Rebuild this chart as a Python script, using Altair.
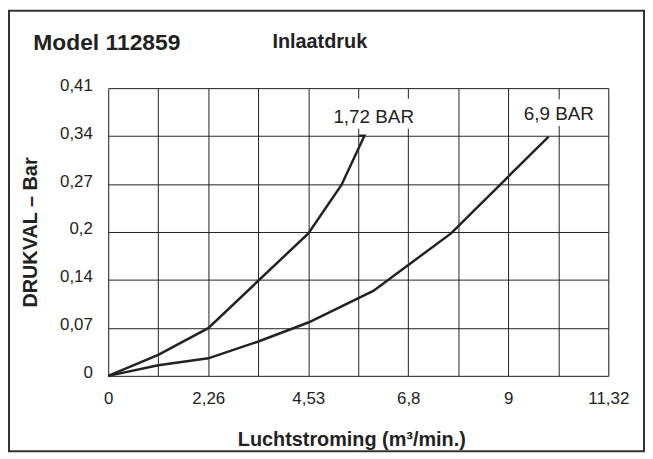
import altair as alt
import pandas as pd

# ---- data ----
x_grid_step = 1.132
x_grid = [round(i * x_grid_step, 3) for i in range(11)]
x_labels = ["0", "", "2,26", "", "4,53", "", "6,8", "", "9", "", "11,32"]

y_step = 0.41 / 6
y_grid = [round(i * y_step, 5) for i in range(7)]
y_labels = ["0", "0,07", "0,14", "0,2", "0,27", "0,34", "0,41"]

s1_name = "1,72 BAR"
s1_x = [0.0, 1.132, 2.264, 4.53, 5.28, 5.80, 5.68]
s1_y = [0.0, 0.030, 0.068, 0.203, 0.272, 0.342, 0.342]

s2_name = "6,9 BAR"
s2_x = [0.0, 1.132, 2.264, 3.40, 4.53, 6.00, 7.76, 9.97]
s2_y = [0.0, 0.015, 0.025, 0.049, 0.076, 0.121, 0.203, 0.341]

# annotation labels (data units)
lab_text = [s1_name, s2_name]
lab_x = [6.01, 10.20]
lab_y = [0.361, 0.365]
box_x1 = [4.95, 9.22]
box_x2 = [7.07, 11.18]
box_y1 = [0.352, 0.356]
box_y2 = [0.395, 0.394]

title_main = "Model 112859"
title_sub = "Inlaatdruk"
x_title = "Luchtstroming (m³/min.)"
y_title = "DRUKVAL – Bar"

# ---- tables ----
rows = []
for i, (x, y) in enumerate(zip(s1_x, s1_y)):
    rows.append({"serie": s1_name, "order": i, "x": x, "y": y})
for i, (x, y) in enumerate(zip(s2_x, s2_y)):
    rows.append({"serie": s2_name, "order": i, "x": x, "y": y})
lines_df = pd.DataFrame(rows)
labels_df = pd.DataFrame({"t": lab_text, "x": lab_x, "y": lab_y,
                          "x1": box_x1, "x2": box_x2, "y1": box_y1, "y2": box_y2})

W, H = 504, 290
PAD_L, PAD_T = 101, 79
TOTAL_W, TOTAL_H = 642, 446
FONT = "Liberation Sans"
INK = "#222222"

x_label_expr = "[" + ",".join("'%s'" % s for s in x_labels) + "][round(datum.value/%s)]" % x_grid_step
y_label_expr = "[" + ",".join("'%s'" % s for s in y_labels) + "][round(datum.value/%s)]" % y_step

xscale = alt.Scale(domain=[0, 11.32], nice=False, zero=True)
yscale = alt.Scale(domain=[0, 0.41], nice=False, zero=True)

xaxis = alt.Axis(values=x_grid, labelExpr=x_label_expr, title=x_title,
                 grid=True, gridColor=INK, gridOpacity=1, gridWidth=1,
                 ticks=False, tickSize=0, domain=False,
                 labelFont=FONT, labelFontSize=17, labelColor=INK,
                 labelPadding=28, labelBaseline="alphabetic", labelFlush=False,
                 titleFont=FONT, titleFontSize=20, titleFontWeight="bold", titleColor=INK,
                 titleX=245, titleY=70, titleAlign="center", titleBaseline="alphabetic")
yaxis = alt.Axis(values=y_grid, labelExpr=y_label_expr, title=y_title,
                 grid=True, gridColor=INK, gridOpacity=1, gridWidth=1,
                 ticks=False, tickSize=0, domain=False,
                 labelFont=FONT, labelFontSize=17, labelColor=INK,
                 labelPadding=16, labelBaseline="alphabetic", labelOffset=2,
                 labelFlush=False,
                 titleFont=FONT, titleFontSize=20, titleFontWeight="bold", titleColor=INK,
                 titleX=-72, titleY=H / 2, titleAngle=270, titleAlign="center",
                 titleBaseline="alphabetic")

base = alt.Chart(lines_df)

lines = base.mark_line(strokeWidth=2.5, color=INK, strokeJoin="miter").encode(
    x=alt.X("x:Q", scale=xscale, axis=xaxis),
    y=alt.Y("y:Q", scale=yscale, axis=yaxis),
    detail="serie:N",
    order="order:Q",
)

boxes = alt.Chart(labels_df).mark_rect(fill="white").encode(
    x=alt.X("x1:Q", scale=xscale), x2="x2:Q",
    y=alt.Y("y1:Q", scale=yscale), y2="y2:Q",
)

texts = alt.Chart(labels_df).mark_text(font=FONT, fontSize=19, color=INK,
                                       align="center", baseline="alphabetic").encode(
    x=alt.X("x:Q", scale=xscale), y=alt.Y("y:Q", scale=yscale), text="t:N"
)

title1 = alt.Chart(pd.DataFrame({"t": [title_main]})).mark_text(
    font=FONT, fontSize=23, fontWeight="bold", color=INK, align="left", baseline="alphabetic"
).encode(x=alt.value(-75.5), y=alt.value(-38.3), text="t:N")

title2 = alt.Chart(pd.DataFrame({"t": [title_sub]})).mark_text(
    font=FONT, fontSize=20, fontWeight="bold", color=INK, align="left", baseline="alphabetic"
).encode(x=alt.value(165.5), y=alt.value(-40), text="t:N")

border = alt.Chart(pd.DataFrame({"a": [0]})).mark_rect(
    fill=None, stroke="#333333", strokeWidth=2
).encode(
    x=alt.value(-PAD_L + 1), x2=alt.value(TOTAL_W - PAD_L - 1),
    y=alt.value(-PAD_T + 1), y2=alt.value(TOTAL_H - PAD_T - 1),
)

chart = alt.layer(boxes, lines, texts, title1, title2, border).properties(
    width=W, height=H,
    autosize=alt.AutoSizeParams(type="none"),
    padding={"left": PAD_L, "top": PAD_T,
             "right": TOTAL_W - PAD_L - W, "bottom": TOTAL_H - PAD_T - H},
).configure_view(stroke=INK, strokeWidth=1.5, fill="white").configure(background="white")

chart.save("out.html", embed_options={"renderer": "svg", "actions": False})
